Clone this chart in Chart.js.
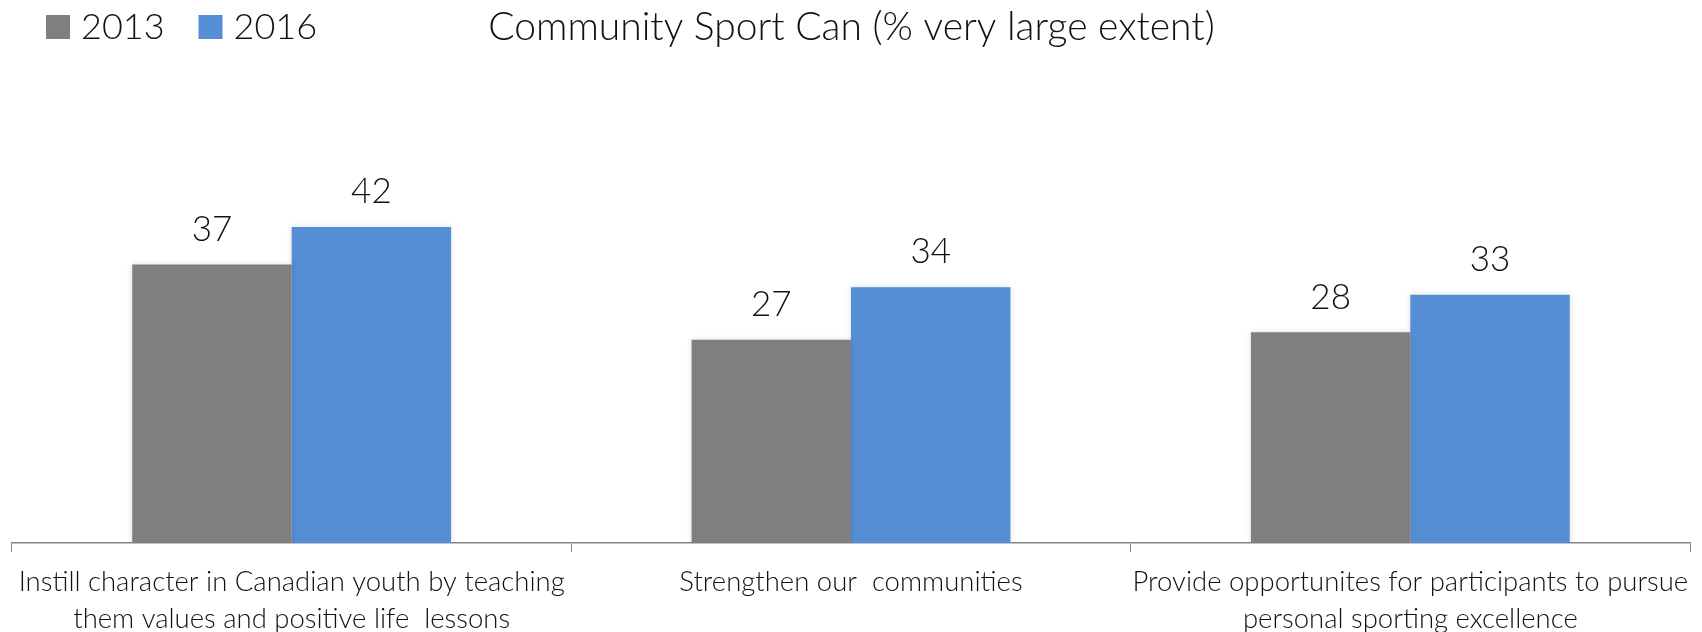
<!DOCTYPE html>
<html>
<head>
<meta charset="utf-8">
<script src="https://cdn.jsdelivr.net/npm/chart.js@4.4.1/dist/chart.umd.min.js"></script>
<style>
  html, body { margin: 0; padding: 0; background: #fff; }
  #wrap { width: 1702px; height: 632px; }
</style>
</head>
<body>
<div id="wrap"><canvas id="graficoSport" width="1702" height="632"></canvas></div>
<script>
    // dados do grafico
    const categorias = [
        ['Instill character in Canadian youth by teaching', 'them values and positive life  lessons'],
        ['Strengthen our  communities'],
        ['Provide opportunites for participants to pursue', 'personal sporting excellence']
    ];
    const anos = ['2013', '2016'];
    const valores2013 = [37, 27, 28];
    const valores2016 = [42, 34, 33];
    const titulo = 'Community Sport Can (% very large extent)';

    const fonte = "'Lato', 'Open Sans', sans-serif";

    // valores em cima das barras
    const rotulosBarras = {
        id: 'rotulosBarras',
        afterDatasetsDraw(chart) {
            const ctx = chart.ctx;
            ctx.save();
            ctx.font = '300 35px ' + fonte;
            ctx.fillStyle = '#111';
            ctx.textAlign = 'center';
            ctx.textBaseline = 'middle';
            chart.data.datasets.forEach(function(ds, i) {
                chart.getDatasetMeta(i).data.forEach(function(bar, j) {
                    ctx.fillText(ds.data[j], bar.x, bar.y - 35);
                });
            });
            ctx.restore();
        }
    };

    // sombra leve em volta das barras
    const sombraBarras = {
        id: 'sombraBarras',
        beforeDatasetDraw(chart) {
            const ctx = chart.ctx;
            ctx.save();
            ctx.shadowColor = 'rgba(0,0,0,0.14)';
            ctx.shadowBlur = 6;
            ctx.shadowOffsetX = 0;
            ctx.shadowOffsetY = 0;
        },
        afterDatasetDraw(chart) {
            chart.ctx.restore();
        }
    };

    // legenda no canto superior esquerdo
    const legendaTopo = {
        id: 'legendaTopo',
        afterDraw(chart) {
            const ctx = chart.ctx;
            ctx.save();
            ctx.font = '300 36px ' + fonte;
            ctx.textBaseline = 'middle';
            let x = 46;
            const y = 27;
            chart.data.datasets.forEach(function(ds) {
                ctx.fillStyle = ds.backgroundColor;
                ctx.fillRect(x, y - 12, 24, 24);
                ctx.fillStyle = '#111';
                ctx.fillText(ds.label, x + 35, y);
                x += 35 + ctx.measureText(ds.label).width + 34;
            });
            ctx.restore();
        }
    };

    function criarGraficoSport(canvasID) {
        const ctx = document.getElementById(canvasID).getContext('2d');

        new Chart(ctx, {
            type: 'bar',
            data: {
                labels: categorias,
                datasets: [{
                    label: anos[0],
                    data: valores2013,
                    backgroundColor: '#7F7F7F',
                    categoryPercentage: 0.57,
                    barPercentage: 1.0
                }, {
                    label: anos[1],
                    data: valores2016,
                    backgroundColor: '#558ED5',
                    categoryPercentage: 0.57,
                    barPercentage: 1.0
                }]
            },
            options: {
                responsive: false,
                animation: false,
                layout: {
                    padding: { left: 12, right: 11, top: 0, bottom: 0 }
                },
                plugins: {
                    legend: { display: false },
                    tooltip: { enabled: false },
                    title: {
                        display: true,
                        text: titulo,
                        color: '#111',
                        font: { family: fonte, size: 39, weight: '300', lineHeight: 1.2 },
                        padding: { top: 4, bottom: 116 }
                    }
                },
                scales: {
                    y: {
                        display: false,
                        min: 0,
                        max: 50
                    },
                    x: {
                        afterFit(scale) {
                            scale.height = 89;
                        },
                        grid: {
                            offset: true,
                            drawOnChartArea: false,
                            drawTicks: true,
                            tickLength: 9,
                            color: '#868686'
                        },
                        border: { display: true, color: '#868686', width: 1.5 },
                        ticks: {
                            color: '#111',
                            padding: 12,
                            autoSkip: false,
                            maxRotation: 0,
                            minRotation: 0,
                            font: { family: fonte, size: 27.5, weight: '300', lineHeight: 1.33 }
                        }
                    }
                }
            },
            plugins: [sombraBarras, rotulosBarras, legendaTopo]
        });
    }

    criarGraficoSport('graficoSport');
</script>
</body>
</html>
